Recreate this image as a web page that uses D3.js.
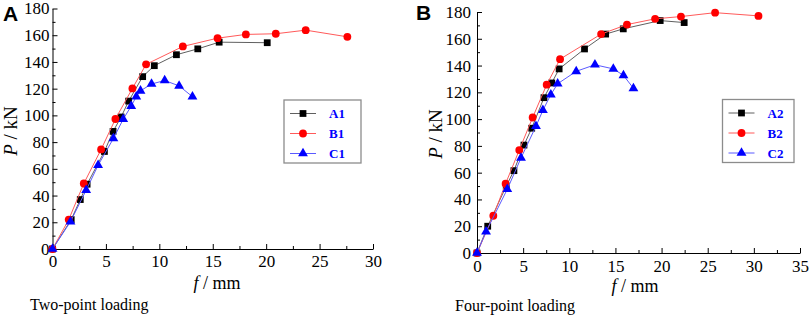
<!DOCTYPE html>
<html>
<head>
<meta charset="utf-8">
<script src="https://cdn.jsdelivr.net/npm/d3@7"></script>
<style>
  html, body { margin: 0; padding: 0; background: #fff; }
  svg { display: block; }
</style>
</head>
<body>
<svg id="chart" width="809" height="316"></svg>
<script>
// ---- Data (f in mm, P in kN) ----
const A1 = [[0,0],[1.75,22],[2.6,37],[3.24,48.5],[4.86,73],[5.67,88],[6.42,98.8],[7.13,110.7],[8.44,129],[9.53,137.2],[11.6,145.4],[13.6,149.8],[15.6,154.8],[20.1,154.4]];
const B1 = [[0,0],[1.52,22],[2.93,49],[4.55,74.5],[5.89,97.3],[7.48,120.2],[8.76,138.2],[12.2,151.6],[15.45,157.8],[18.1,160.6],[20.9,161.1],[23.7,163.8],[27.6,158.8]];
const C1 = [[0,0],[1.68,20.4],[3.15,44],[4.27,62.7],[5.7,82.7],[6.62,97.2],[7.37,107],[7.84,114],[8.24,118.4],[9.27,123.5],[10.5,126.1],[11.85,122.1],[13.1,114]];

const A2 = [[0,0],[1.16,20],[3.17,50],[4.0,61.5],[5.09,80.6],[5.93,93.2],[7.26,116],[8.1,127],[8.9,137.5],[11.65,152.4],[13.94,163.5],[15.85,167.4],[19.85,173.6],[22.45,172.1]];
const B2 = [[0,0],[1.77,27.8],[3.1,51.8],[4.58,76.9],[6.03,101.2],[7.55,125.7],[9.0,144.8],[13.45,163.5],[16.25,170.6],[19.3,174.9],[22.1,176.6],[25.8,179.5],[30.5,177.1]];
const C2 = [[0,0],[0.98,15.9],[3.28,47.6],[4.77,71],[6.39,94.7],[7.14,106.6],[8.0,118.3],[8.74,126.4],[10.75,135.7],[12.78,140.6],[14.77,137.5],[15.87,132.7],[16.95,123]];

const namesA = ["A1","B1","C1"];
const namesB = ["A2","B2","C2"];
const xTicksA = [0,5,10,15,20,25,30];
const xTicksB = [0,5,10,15,20,25,30,35];
const yTicks = [0,20,40,60,80,100,120,140,160,180];
const captions = ["Two-point loading","Four-point loading"];
const panelLetters = ["A","B"];

const SERIF = '"Liberation Serif", "Times New Roman", Times, serif';
const SANS = '"Liberation Sans", Arial, Helvetica, sans-serif';

// ---- Styles ----
const styles = [
  {line:"#606060", fill:"#000000", shape:d3.symbolSquare, size:46},
  {line:"#ff5a5a", fill:"#ff0000", shape:d3.symbolCircle, size:48},
  {line:"#5a5aff", fill:"#0000ff", shape:d3.symbolTriangle, size:42}
];

const svg = d3.select("#chart");

const panels = [
  {series:[A1,B1,C1], names:namesA, xMax:30, xTicks:xTicksA,
   xr:[52.5,373], yr:[249,8.5], padY:3, padX:6,
   yTitle:{x:17,y:131}, xTitle:{x:217,y:289},
   legend:{x:284,y:100,w:77,h:63}, caption:{x:30,y:310}, letter:{x:3,y:21}},
  {series:[A2,B2,C2], names:namesB, xMax:35, xTicks:xTicksB,
   xr:[477,800], yr:[253,12], padY:6, padX:7,
   yTitle:{x:442,y:134}, xTitle:{x:635,y:292},
   legend:{x:722.5,y:99.5,w:71.5,h:63}, caption:{x:455,y:311}, letter:{x:416,y:20}}
];

panels.forEach((p, pi) => {
  const x = d3.scaleLinear().domain([0, p.xMax]).range(p.xr);
  const y = d3.scaleLinear().domain([0, 180]).range(p.yr);
  const g = svg.append("g");

  // minor ticks
  const xMinor = d3.range(2.5, p.xMax, 5);
  const yMinor = d3.range(10, 180, 20);
  g.append("g").attr("transform", `translate(0,${p.yr[0]})`)
    .call(d3.axisBottom(x).tickValues(xMinor).tickSizeInner(-3).tickSizeOuter(0).tickFormat(""))
    .call(s => s.select(".domain").remove());
  g.append("g").attr("transform", `translate(${p.xr[0]},0)`)
    .call(d3.axisLeft(y).tickValues(yMinor).tickSizeInner(-3).tickSizeOuter(0).tickFormat(""))
    .call(s => s.select(".domain").remove());

  // major axes
  const xa = g.append("g").attr("transform", `translate(0,${p.yr[0]})`)
    .call(d3.axisBottom(x).tickValues(p.xTicks).tickSizeInner(-5).tickSizeOuter(0).tickPadding(p.padX).tickFormat(d3.format("d")));
  const ya = g.append("g").attr("transform", `translate(${p.xr[0]},0)`)
    .call(d3.axisLeft(y).tickValues(yTicks).tickSizeInner(-5).tickSizeOuter(0).tickPadding(p.padY).tickFormat(d3.format("d")));
  [xa, ya].forEach(a => {
    a.selectAll("text").style("font-family", SERIF).style("font-size", "17px").attr("fill", "#000");
    a.selectAll("line,path").attr("stroke", "#000").attr("stroke-width", 1);
  });

  // series lines and markers
  const line = d3.line().x(d => x(d[0])).y(d => y(d[1]));
  p.series.forEach((data, si) => {
    const st = styles[si];
    g.append("path").datum(data).attr("d", line)
      .attr("fill", "none").attr("stroke", st.line).attr("stroke-width", 1);
    g.append("g").selectAll("path").data(data).join("path")
      .attr("transform", d => `translate(${x(d[0])},${y(d[1])})`)
      .attr("d", d3.symbol().type(st.shape).size(st.size))
      .attr("fill", st.fill);
  });

  // legend
  const L = p.legend;
  const lg = g.append("g");
  lg.append("rect").attr("x", L.x).attr("y", L.y).attr("width", L.w).attr("height", L.h)
    .attr("fill", "#fff").attr("stroke", "#8c8c8c").attr("stroke-width", 1.3);
  p.names.forEach((nm, i) => {
    const st = styles[i];
    const cy = L.y + 13.5 + i * 20;
    lg.append("line").attr("x1", L.x + 6).attr("x2", L.x + 32).attr("y1", cy).attr("y2", cy)
      .attr("stroke", st.line).attr("stroke-width", 1);
    lg.append("path").attr("transform", `translate(${L.x + 19},${cy})`)
      .attr("d", d3.symbol().type(st.shape).size(st.size)).attr("fill", st.fill);
    lg.append("text").attr("x", L.x + 45).attr("y", cy + 4.5)
      .style("font-family", SERIF).style("font-size", "13px").style("font-weight", "bold")
      .attr("fill", "#0000ff").text(nm);
  });

  // axis titles
  const yt = g.append("text")
    .attr("transform", `translate(${p.yTitle.x},${p.yTitle.y}) rotate(-90)`)
    .attr("text-anchor", "middle").style("font-family", SERIF).style("font-size", "19px").attr("fill", "#000");
  yt.append("tspan").style("font-style", "italic").text("P");
  yt.append("tspan").text(" / kN");

  const xt = g.append("text")
    .attr("x", p.xTitle.x).attr("y", p.xTitle.y)
    .attr("text-anchor", "middle").style("font-family", SERIF).style("font-size", "18px").attr("fill", "#000");
  xt.append("tspan").style("font-style", "italic").text("f");
  xt.append("tspan").text(" / mm");

  // caption
  g.append("text").attr("x", p.caption.x).attr("y", p.caption.y)
    .style("font-family", SERIF).style("font-size", "16px").attr("fill", "#000").text(captions[pi]);

  // panel letter
  g.append("text").attr("x", p.letter.x).attr("y", p.letter.y)
    .style("font-family", SANS).style("font-weight", "bold")
    .style("font-size", "21px").attr("fill", "#000").text(panelLetters[pi]);
});
</script>
</body>
</html>
